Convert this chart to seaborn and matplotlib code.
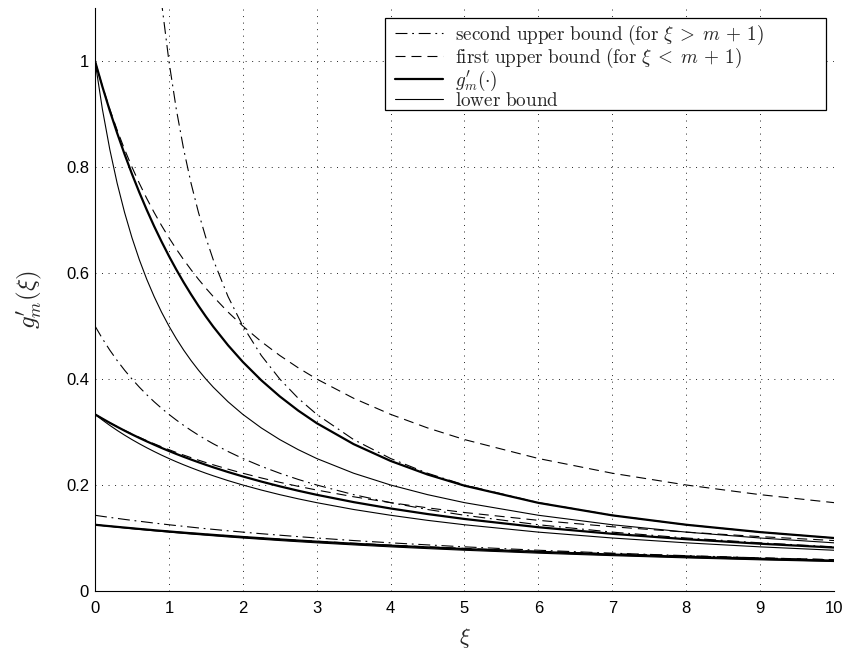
import numpy as np
import pandas as pd
import matplotlib
matplotlib.use("Agg")
import matplotlib.pyplot as plt
from matplotlib.patches import Rectangle
import seaborn as sns

# ---------------- data ----------------
xi = [0, 0.1, 0.2, 0.3, 0.4, 0.5, 0.6, 0.7, 0.8, 0.9, 1.0, 1.1, 1.2, 1.3, 1.4,
      1.5, 1.6, 1.8, 2.0, 2.25, 2.5, 2.75, 3.0, 3.5, 4.0, 4.5, 5.0, 6.0, 7.0,
      8.0, 9.0, 10.0]

# m = 0
g_m0 = [1.0, 0.9516, 0.9063, 0.8639, 0.8242, 0.7869, 0.7520, 0.7192, 0.6883,
        0.6594, 0.6321, 0.6065, 0.5823, 0.5596, 0.5381, 0.5179, 0.4988, 0.4637,
        0.4323, 0.3976, 0.3672, 0.3404, 0.3167, 0.2771, 0.2454, 0.2198, 0.1987,
        0.1663, 0.1427, 0.1250, 0.1111, 0.1000]
low_m0 = [1.0, 0.9091, 0.8333, 0.7692, 0.7143, 0.6667, 0.6250, 0.5882, 0.5556,
          0.5263, 0.5, 0.4762, 0.4545, 0.4348, 0.4167, 0.4, 0.3846, 0.3571,
          0.3333, 0.3077, 0.2857, 0.2667, 0.25, 0.2222, 0.2, 0.1818, 0.1667,
          0.1429, 0.125, 0.1111, 0.1, 0.0909]
ub1_m0 = [1.0, 0.9524, 0.9091, 0.8696, 0.8333, 0.8, 0.7692, 0.7407, 0.7143,
          0.6897, 0.6667, 0.6452, 0.625, 0.6061, 0.5882, 0.5714, 0.5556, 0.5263,
          0.5, 0.4706, 0.4444, 0.4211, 0.4, 0.3636, 0.3333, 0.3077, 0.2857,
          0.25, 0.2222, 0.2, 0.1818, 0.1667]
ub2_m0 = [np.nan, 10.0, 5.0, 3.3333, 2.5, 2.0, 1.6667, 1.4286, 1.25, 1.1111,
          1.0, 0.9091, 0.8333, 0.7692, 0.7143, 0.6667, 0.625, 0.5556, 0.5,
          0.4444, 0.4, 0.3636, 0.3333, 0.2857, 0.25, 0.2222, 0.2, 0.1667,
          0.1429, 0.125, 0.1111, 0.1]

# m = 2
g_m2 = [0.3333, 0.3252, 0.3173, 0.3098, 0.3025, 0.2955, 0.2888, 0.2823, 0.2761,
        0.2700, 0.2642, 0.2586, 0.2532, 0.2480, 0.2430, 0.2381, 0.2334, 0.2245,
        0.2162, 0.2065, 0.1975, 0.1892, 0.1815, 0.1677, 0.1557, 0.1452, 0.1359,
        0.1203, 0.1079, 0.0977, 0.0892, 0.0820]
low_m2 = [0.3333, 0.3226, 0.3125, 0.3030, 0.2941, 0.2857, 0.2778, 0.2703,
          0.2632, 0.2564, 0.25, 0.2439, 0.2381, 0.2326, 0.2273, 0.2222, 0.2174,
          0.2083, 0.2, 0.1905, 0.1818, 0.1739, 0.1667, 0.1538, 0.1429, 0.1333,
          0.125, 0.1111, 0.1, 0.0909, 0.0833, 0.0769]
ub1_m2 = [0.3333, 0.3252, 0.3175, 0.3101, 0.3030, 0.2963, 0.2899, 0.2837,
          0.2778, 0.2721, 0.2667, 0.2614, 0.2564, 0.2516, 0.2469, 0.2424,
          0.2381, 0.2299, 0.2222, 0.2133, 0.2051, 0.1975, 0.1905, 0.1778,
          0.1667, 0.1569, 0.1481, 0.1333, 0.1212, 0.1111, 0.1026, 0.0952]
ub2_m2 = [0.5, 0.4762, 0.4545, 0.4348, 0.4167, 0.4, 0.3846, 0.3704, 0.3571,
          0.3448, 0.3333, 0.3226, 0.3125, 0.3030, 0.2941, 0.2857, 0.2778,
          0.2632, 0.25, 0.2353, 0.2222, 0.2105, 0.2, 0.1818, 0.1667, 0.1538,
          0.1429, 0.125, 0.1111, 0.1, 0.0909, 0.0833]

# m = 7
g_m7 = [0.125, 0.1236, 0.1223, 0.1210, 0.1197, 0.1184, 0.1171, 0.1159, 0.1147,
        0.1135, 0.1124, 0.1112, 0.1101, 0.1090, 0.1080, 0.1069, 0.1059, 0.1039,
        0.1019, 0.0996, 0.0973, 0.0952, 0.0931, 0.0892, 0.0856, 0.0823, 0.0792,
        0.0737, 0.0688, 0.0645, 0.0607, 0.0573]
low_m7 = [0.125, 0.1235, 0.1220, 0.1205, 0.1190, 0.1176, 0.1163, 0.1149,
          0.1136, 0.1124, 0.1111, 0.1099, 0.1087, 0.1075, 0.1064, 0.1053,
          0.1042, 0.1020, 0.1, 0.0976, 0.0952, 0.0930, 0.0909, 0.0870, 0.0833,
          0.08, 0.0769, 0.0714, 0.0667, 0.0625, 0.0588, 0.0556]
ub1_m7 = [0.125, 0.1236, 0.1223, 0.1210, 0.1197, 0.1184, 0.1172, 0.1160,
          0.1148, 0.1136, 0.1125, 0.1114, 0.1103, 0.1092, 0.1082, 0.1071,
          0.1061, 0.1042, 0.1023, 0.1, 0.0978, 0.0957, 0.0938, 0.09, 0.0865,
          0.0833, 0.0804, 0.075, 0.0703, 0.0662, 0.0625, 0.0592]
ub2_m7 = [0.1429, 0.1408, 0.1389, 0.1370, 0.1351, 0.1333, 0.1316, 0.1299,
          0.1282, 0.1266, 0.125, 0.1235, 0.1220, 0.1205, 0.1190, 0.1176,
          0.1163, 0.1136, 0.1111, 0.1081, 0.1053, 0.1026, 0.1, 0.0952, 0.0909,
          0.0870, 0.0833, 0.0769, 0.0714, 0.0667, 0.0625, 0.0588]

x_ticks = [0, 1, 2, 3, 4, 5, 6, 7, 8, 9, 10]
x_tick_labels = ["0", "1", "2", "3", "4", "5", "6", "7", "8", "9", "10"]
y_ticks = [0, 0.2, 0.4, 0.6, 0.8, 1.0]
y_tick_labels = ["0", "0.2", "0.4", "0.6", "0.8", "1"]

label_ub2 = r"$\mathrm{second\ upper\ bound\ (for\ }\xi\;>\;m\,+\,1\mathrm{)}$"
label_ub1 = r"$\mathrm{first\ upper\ bound\ (for\ }\xi\;<\;m\,+\,1\mathrm{)}$"
label_g = r"$g^{\prime}_{m}(\cdot)$"
label_low = r"$\mathrm{lower\ bound}$"

# ---------------- style ----------------
sns.set_style("white")
plt.rcParams["font.family"] = ["Liberation Sans", "DejaVu Sans"]
plt.rcParams["mathtext.fontset"] = "cm"
plt.rcParams["lines.scale_dashes"] = False

DASH = (0, (7.2, 4.3))
DASHDOT = (0, (8.6, 3.4, 1.3, 3.4))
GRID = (0, (0.7, 4.0))
THICK = 1.6
THIN = 0.8

W, H = 845, 664
AX_L, AX_R, AX_T, AX_B = 95, 834, 8, 591
fig = plt.figure(figsize=(W / 100, H / 100), dpi=100)
ax = fig.add_axes([AX_L / W, 1 - AX_B / H, (AX_R - AX_L) / W, (AX_B - AX_T) / H])


def px_to_ax(px, py):
    return ((px - AX_L) / (AX_R - AX_L), (AX_B - py) / (AX_B - AX_T))


series = [
    (ub2_m0, THIN, DASHDOT, label_ub2), (ub1_m0, THIN, DASH, label_ub1),
    (g_m0, THICK, "-", label_g), (low_m0, THIN, "-", label_low),
    (ub2_m2, THIN, DASHDOT, None), (ub1_m2, THIN, DASH, None),
    (g_m2, THICK, "-", None), (low_m2, THIN, "-", None),
    (ub2_m7, THIN, DASHDOT, None), (ub1_m7, THIN, DASH, None),
    (g_m7, THICK, "-", None), (low_m7, THIN, "-", None),
]
for vals, lw, ls, lab in series:
    df = pd.DataFrame({"xi": xi, "val": vals}).dropna()
    sns.lineplot(data=df, x="xi", y="val", ax=ax, color="k", linewidth=lw,
                 linestyle=ls, label=lab, estimator=None, sort=False)

ax.set_xlim(0, 10)
ax.set_ylim(0, 1.1)
ax.set_xticks(x_ticks)
ax.set_xticklabels(x_tick_labels)
ax.set_yticks(y_ticks)
ax.set_yticklabels(y_tick_labels)
ax.grid(True, color="k", linestyle=GRID, linewidth=0.6)
ax.set_axisbelow(True)
for s in ["top", "right"]:
    ax.spines[s].set_visible(False)
for s in ["left", "bottom"]:
    ax.spines[s].set_color("k")
    ax.spines[s].set_linewidth(0.8)
ax.tick_params(axis="both", direction="in", length=5, width=0.6,
               labelsize=12, colors="k")
ax.tick_params(axis="x", pad=7.5)
ax.tick_params(axis="y", pad=4.3)

ax.set_xlabel(r"$\xi$", fontsize=16)
ax.set_ylabel(r"$g^{\prime}_{m}(\xi)$", fontsize=18)
ax.xaxis.set_label_coords(0.5, (591 - 626) / 583)
ax.yaxis.set_label_coords((44 - 95) / 739, 0.5)

# legend frame (wide box as in the reference)
bx0, by0 = px_to_ax(385, 110)
bx1, by1 = px_to_ax(826, 18)
ax.add_patch(Rectangle((bx0, by0), bx1 - bx0, by1 - by0, transform=ax.transAxes,
                       facecolor="white", edgecolor="k", linewidth=0.9,
                       zorder=4.8, clip_on=False))

handles, labels = ax.get_legend_handles_labels()
lx, ly = px_to_ax(395, 22.5)
leg = ax.legend(handles[:4], labels[:4], loc="upper left",
                bbox_to_anchor=(lx, ly), borderaxespad=0, frameon=False,
                fontsize=13.8, handlelength=2.5, handletextpad=0.63,
                borderpad=0, labelspacing=-0.05)
leg.set_zorder(5)

fig.savefig("out.png", dpi=100)
